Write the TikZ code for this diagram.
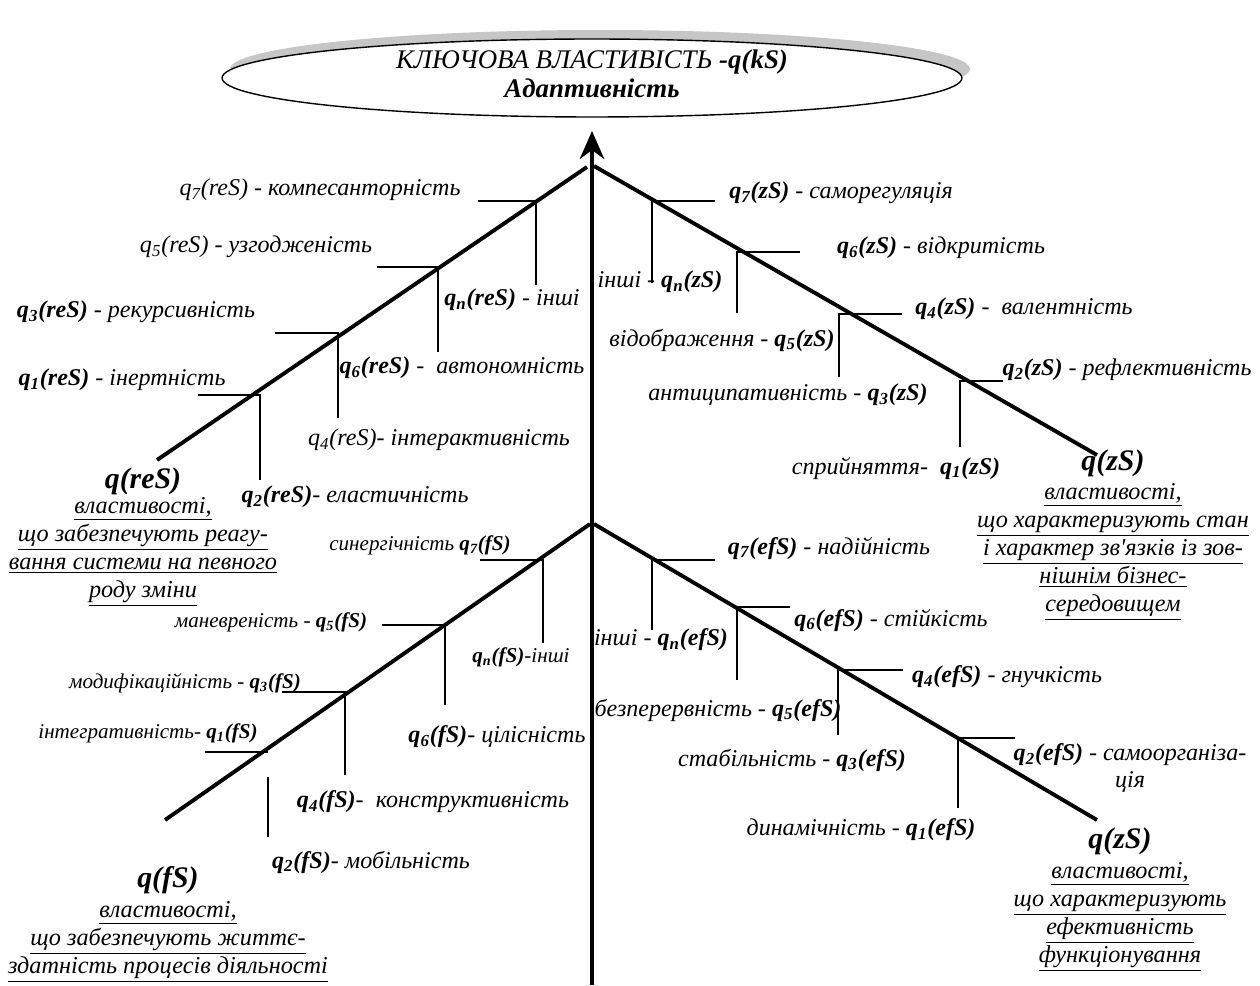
\documentclass[tikz,border=0pt]{standalone}
\usepackage{fontspec}
\setmainfont{Liberation Serif}
\usepackage{tikz}
\usetikzlibrary{arrows.meta,shapes.geometric}
\newcommand{\qs}[2]{q\textsubscript{#1}(#2)}

\begin{document}
\begin{tikzpicture}[x=0.02cm,y=-0.02cm,
  bone/.style={line width=2.2pt},
  rib/.style={line width=0.8pt},
  lbl/.style={inner sep=0pt,font=\fontsize{13.7}{15}\selectfont\itshape},
  lbls/.style={inner sep=0pt,font=\fontsize{12}{14}\selectfont\itshape},
  head/.style={inner sep=0pt,font=\fontsize{17}{19}\selectfont\bfseries\itshape},
  note/.style={inner sep=0pt,align=center,font=\fontsize{13.8}{16}\selectfont\itshape},
  keybox/.style={ellipse,minimum width=14.8cm,minimum height=1.56cm,inner sep=0pt}]
  \useasboundingbox (0,0) rectangle (1260,986);
  % key property
  \node[keybox,fill=gray!45] (shade) at (600,69) {};
  \node[keybox,draw,fill=white,line width=0.8pt] (key) at (592,78) {};
  \node[inner sep=0pt,align=center,font=\fontsize{15.3}{16.5}\selectfont\itshape]
    (keyText) at (592,74) {КЛЮЧОВА ВЛАСТИВІСТЬ \textbf{-q(kS)}\\ \textbf{Адаптивність}};
  \coordinate (base) at (592,985);
  \coordinate (tip) at (592,131);
  \draw[line width=1.8pt,-{Stealth[length=16pt,width=14pt]}] (base) -- (tip);

  % upper left: reS
  \coordinate (reTop) at (587,167);
  \coordinate (reEnd) at (157,460);
  \draw[bone] (reEnd) -- (reTop);
  \draw[rib] (478,201) -- (536,201) -- (536,285);
  \draw[rib] (377,267) -- (438,267) -- (438,352);
  \draw[rib] (275,333) -- (338,333) -- (338,418);
  \draw[rib] (198,395) -- (260,395) -- (260,480);
  \node[lbl] (re7) at (320,190) {\qs{7}{reS} - компесанторність};
  \node[lbl] (re5) at (256,247) {\qs{5}{reS} - узгодженість};
  \node[lbl] (re3) at (136,312) {\textbf{\qs{3}{reS}} - рекурсивність};
  \node[lbl] (re1) at (122,380) {\textbf{\qs{1}{reS}} - інертність};
  \node[lbl] (ren) at (512,300) {\textbf{\qs{n}{reS}} - інші};
  \node[lbl] (re6) at (462,368) {\textbf{\qs{6}{reS}} -~~автономність};
  \node[lbl] (re4) at (439,440) {\qs{4}{reS}- інтерактивність};
  \node[lbl] (re2) at (355,497) {\textbf{\qs{2}{reS}}- еластичність};
  \node[head] (reHead) at (143,481) {q(reS)};
  \node[note] (reNote) at (143,552) {\underline{властивості,}\\
    \underline{що забезпечують реагу-}\\
    \underline{вання системи на певного}\\
    \underline{роду зміни}};

  % upper right: zS
  \coordinate (zTop) at (594,166);
  \coordinate (zEnd) at (1097,455);
  \draw[bone] (zTop) -- (zEnd);
  \draw[rib] (715,201) -- (652,201) -- (652,283);
  \draw[rib] (800,252) -- (737,252) -- (737,313);
  \draw[rib] (902,314) -- (839,314) -- (839,377);
  \draw[rib] (1003,381) -- (960,381) -- (960,447);
  \node[lbl] (z7) at (841,193) {\textbf{\qs{7}{zS}} - саморегуляція};
  \node[lbl] (z6) at (941,248) {\textbf{\qs{6}{zS}} - відкритість};
  \node[lbl] (z4) at (1024,309) {\textbf{\qs{4}{zS}} -~~валентність};
  \node[lbl] (z2) at (1127,370) {\textbf{\qs{2}{zS}} - рефлективність};
  \node[lbl] (zn) at (660,282) {інші - \textbf{\qs{n}{zS}}};
  \node[lbl] (z5) at (722,340) {відображення - \textbf{\qs{5}{zS}}};
  \node[lbl] (z3) at (788,395) {антиципативність - \textbf{\qs{3}{zS}}};
  \node[lbl] (z1) at (896,468) {сприйняття-~~\textbf{\qs{1}{zS}}};
  \node[head] (zHead) at (1113,463) {q(zS)};
  \node[note] (zNote) at (1113,552) {\underline{властивості,}\\
    \underline{що характеризують стан}\\
    \underline{і характер зв\textquotesingle язків із зов-}\\
    \underline{нішнім бізнес-}\\
    \underline{середовищем}};

  % lower left: fS
  \coordinate (fTop) at (590,524);
  \coordinate (fEnd) at (165,820);
  \draw[bone] (fEnd) -- (fTop);
  \draw[rib] (480,560) -- (543,560) -- (543,643);
  \draw[rib] (382,625) -- (445,625) -- (445,705);
  \draw[rib] (282,692) -- (345,692) -- (345,775);
  \draw[rib] (205,752) -- (268,752);
  \draw[rib] (268,777) -- (268,837);
  \node[lbls] (f7) at (420,545) {синергічність \textbf{\qs{7}{fS}}};
  \node[lbls] (f5) at (271,622) {маневреність - \textbf{\qs{5}{fS}}};
  \node[lbls] (f3) at (185,683) {модифікаційність - \textbf{\qs{3}{fS}}};
  \node[lbls] (f1) at (148,733) {інтегративність- \textbf{\qs{1}{fS}}};
  \node[lbls] (fn) at (521,657) {\textbf{\qs{n}{fS}}-інші};
  \node[lbl] (f6) at (497,737) {\textbf{\qs{6}{fS}}- цілісність};
  \node[lbl] (f4) at (433,802) {\textbf{\qs{4}{fS}}-~~конструктивність};
  \node[lbl] (f2) at (371,862) {\textbf{\qs{2}{fS}}- мобільність};
  \node[head] (fHead) at (168,880) {q(fS)};
  \node[note] (fNote) at (168,942) {\underline{властивості,}\\
    \underline{що забезпечують життє-}\\
    \underline{здатність процесів діяльності}};

  % lower right: efS
  \coordinate (efTop) at (594,524);
  \coordinate (efEnd) at (1097,820);
  \draw[bone] (efTop) -- (efEnd);
  \draw[rib] (715,560) -- (652,560) -- (652,630);
  \draw[rib] (790,607) -- (737,607) -- (737,680);
  \draw[rib] (903,670) -- (838,670) -- (838,735);
  \draw[rib] (1015,738) -- (958,738) -- (958,808);
  \node[lbl] (ef7) at (829,548) {\textbf{\qs{7}{efS}} - надійність};
  \node[lbl] (ef6) at (891,620) {\textbf{\qs{6}{efS}} - стійкість};
  \node[lbl] (efn) at (661,640) {інші - \textbf{\qs{n}{efS}}};
  \node[lbl] (ef4) at (1007,677) {\textbf{\qs{4}{efS}} - гнучкість};
  \node[lbl] (ef5) at (718,710) {безперервність - \textbf{\qs{5}{efS}}};
  \node[lbl] (ef3) at (792,760) {стабільність - \textbf{\qs{3}{efS}}};
  \node[lbl,align=center] (ef2) at (1130,768) {\textbf{\qs{2}{efS}} - самоорганіза-\\ція};
  \node[lbl] (ef1) at (861,830) {динамічність - \textbf{\qs{1}{efS}}};
  \node[head] (efHead) at (1120,841) {q(zS)};
  \node[note] (efNote) at (1120,917) {\underline{властивості,}\\
    \underline{що характеризують}\\
    \underline{ефективність}\\
    \underline{функціонування}};
\end{tikzpicture}
\end{document}
